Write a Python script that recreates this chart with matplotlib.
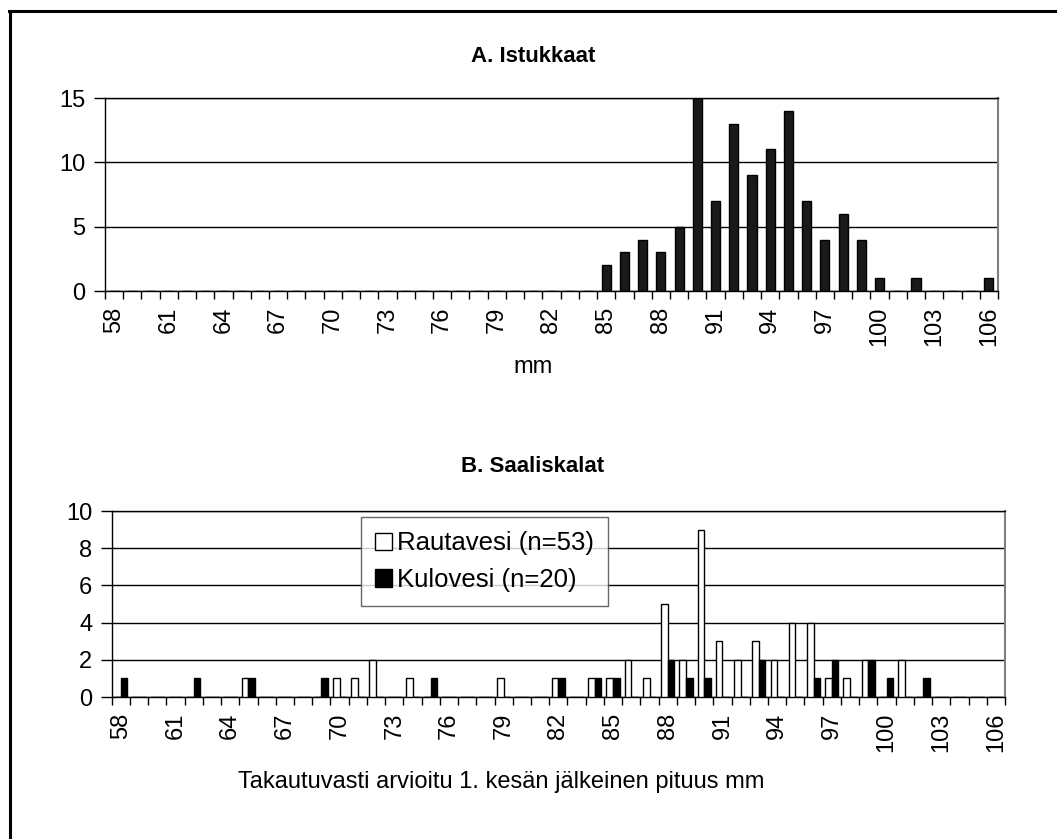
import matplotlib
matplotlib.use('Agg')
import matplotlib.pyplot as plt
from matplotlib.lines import Line2D
from matplotlib.patches import Patch
import numpy as np

plt.rcParams['font.family'] = ['Liberation Sans', 'DejaVu Sans']

# pituusluokat 58..106 mm
lengths = list(range(58, 107))

# A. Istukkaat
istukkaat = {85: 2, 86: 3, 87: 4, 88: 3, 89: 5, 90: 15, 91: 7, 92: 13, 93: 9,
             94: 11, 95: 14, 96: 7, 97: 4, 98: 6, 99: 4, 100: 1, 102: 1, 106: 1}

# B. Saaliskalat
rautavesi = {65: 1, 70: 1, 71: 1, 72: 2, 74: 1, 79: 1, 82: 1, 84: 1, 85: 1,
             86: 2, 87: 1, 88: 5, 89: 2, 90: 9, 91: 3, 92: 2, 93: 3, 94: 2,
             95: 4, 96: 4, 97: 1, 98: 1, 99: 2, 101: 2}
kulovesi = {58: 1, 62: 1, 65: 1, 69: 1, 75: 1, 82: 1, 84: 1, 85: 1, 88: 2,
            89: 1, 90: 1, 93: 2, 96: 1, 97: 2, 99: 2, 100: 1, 102: 1}

tick_labels = [str(v) if (v - 58) % 3 == 0 else '' for v in lengths]

W, H = 1057, 839
fig = plt.figure(figsize=(W / 100, H / 100), dpi=100)


def px_axes(x0, y0, x1, y1):
    return fig.add_axes([x0 / W, 1 - y1 / H, (x1 - x0) / W, (y1 - y0) / H])


def style_axes(ax, ymax, ystep):
    n = len(lengths)
    ax.set_xlim(-0.5, n - 0.5)
    ax.set_ylim(0, ymax)
    ax.set_yticks(np.arange(0, ymax + 1, ystep))
    ax.yaxis.grid(True, color='black', lw=1)
    ax.set_axisbelow(True)
    ax.set_xticks(range(n))
    ax.set_xticklabels(tick_labels, rotation=90, fontsize=17)
    ax.set_xticks(np.arange(-0.5, n, 1), minor=True)
    ax.tick_params(axis='x', which='major', length=0, pad=11)
    ax.tick_params(axis='x', which='minor', length=6, width=1, direction='out')
    ax.tick_params(axis='y', length=8, width=1, labelsize=17, pad=6)
    for s in ['left', 'bottom', 'top']:
        ax.spines[s].set_color('black')
        ax.spines[s].set_linewidth(1)
    ax.spines['right'].set_color('#808080')
    ax.spines['right'].set_linewidth(1.5)


x = np.arange(len(lengths))

# --- A ---
axA = px_axes(105, 98, 998, 291)
valsA = [istukkaat.get(v, 0) for v in lengths]
axA.bar(x, valsA, width=0.5, color='#1a1a1a', edgecolor='black', lw=1, zorder=3)
style_axes(axA, 15, 5)
fig.text(533 / W, 1 - 57 / H, 'A. Istukkaat', ha='center', va='center',
         fontsize=16, fontweight='bold')
fig.text(533 / W, 1 - 367 / H, 'mm', ha='center', va='center', fontsize=17)

# --- B ---
axB = px_axes(111.7, 511, 1005, 697)
valsR = [rautavesi.get(v, 0) for v in lengths]
valsK = [kulovesi.get(v, 0) for v in lengths]
bw = 0.36
axB.bar(x - bw / 2, valsR, width=bw, color='white', edgecolor='black', lw=1, zorder=3)
axB.bar(x + bw / 2, valsK, width=bw, color='black', edgecolor='black', lw=1, zorder=3)
style_axes(axB, 10, 2)
fig.text(533 / W, 1 - 467 / H, 'B. Saaliskalat', ha='center', va='center',
         fontsize=16, fontweight='bold')
fig.text(501 / W, 1 - 782 / H, 'Takautuvasti arvioitu 1. kesän jälkeinen pituus mm',
         ha='center', va='center', fontsize=17)

handles = [Patch(facecolor='white', edgecolor='black', lw=1),
           Patch(facecolor='black', edgecolor='black', lw=1)]
leg = fig.legend(handles, ['Rautavesi (n=53)', 'Kulovesi (n=20)'],
                 loc='upper left', bbox_to_anchor=(361 / W, 1 - 517 / H),
                 fontsize=18.5, frameon=True, fancybox=False, edgecolor='#404040',
                 handlelength=0.65, handleheight=0.65, handletextpad=0.2,
                 borderpad=0.55, labelspacing=0.5, borderaxespad=0)
leg.get_frame().set_linewidth(1)

# kehys vasemmalla ja ylhäällä
fig.add_artist(Line2D([9.5 / W, 9.5 / W], [0, 1 - 11 / H], color='black', lw=2.2,
                      transform=fig.transFigure))
fig.add_artist(Line2D([8.5 / W, 1], [1 - 11 / H, 1 - 11 / H], color='black', lw=2.2,
                      transform=fig.transFigure))

fig.savefig('out.png', dpi=100)
plt.close(fig)
